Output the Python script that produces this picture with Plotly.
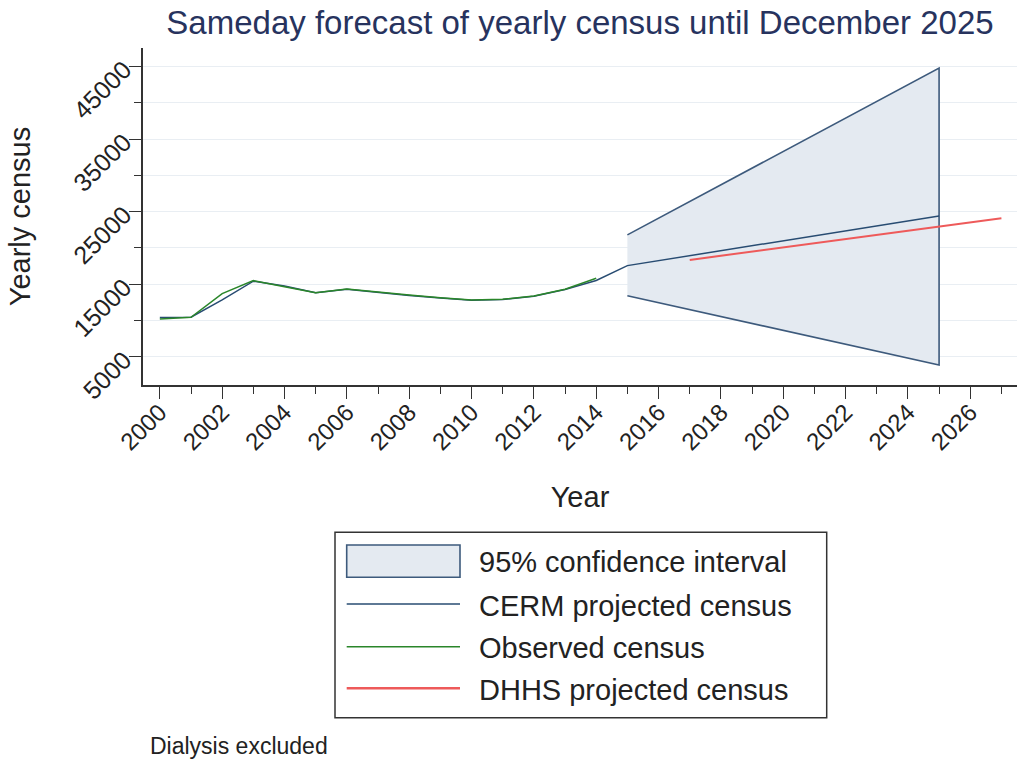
import plotly.graph_objects as go

# ---------------- data ----------------
obs_years = list(range(2000, 2015))
observed = [10200, 10430, 13700, 15480, 14650, 13830, 14340, 13880,
            13510, 13140, 12820, 12920, 13370, 14300, 15810]

cerm_years = list(range(2000, 2016)) + [2025]
cerm = [10400, 10450, 12820, 15400, 14750, 13800, 14300, 13850,
        13450, 13100, 12780, 12880, 13330, 14250, 15500, 17550, 24400]

ci_years = [2015, 2025]
ci_upper = [21790, 44780]
ci_lower = [13410, 3850]

dhhs_years = [2017, 2027]
dhhs = [18340, 24090]

x_ticks = list(range(2000, 2027, 2))
x_minor = list(range(2001, 2028, 2))
y_ticks = [5000, 15000, 25000, 35000, 45000]
y_minor = [10000, 20000, 30000, 40000]

legend_labels = ["95% confidence interval", "CERM projected census",
                 "Observed census", "DHHS projected census"]

# ---------------- styles ----------------
NAVY = "#284c72"
CI_LINE = "#3d5a7c"
CI_FILL = "#e4eaf1"
GREEN = "#2a862a"
RED = "#ee5a5a"
FONT = "Liberation Sans, Arial, Helvetica, sans-serif"

W, H = 1017, 763
L, T, R = 143, 48, 0
B = H - 385
PW, PH = W - L - R, H - T - B


def px(x):
    """picture x pixel -> paper x"""
    return (x - L) / PW


def py(y):
    """picture y pixel -> paper y"""
    return (H - B - y) / PH


fig = go.Figure()

# confidence band
fig.add_trace(go.Scatter(
    x=ci_years + ci_years[::-1],
    y=ci_upper + ci_lower[::-1],
    fill="toself", fillcolor=CI_FILL,
    line=dict(color=CI_LINE, width=1.6),
    mode="lines", name=legend_labels[0], hoverinfo="skip"))

fig.add_trace(go.Scatter(x=cerm_years, y=cerm, mode="lines",
                         line=dict(color=NAVY, width=1.5), name=legend_labels[1]))
fig.add_trace(go.Scatter(x=dhhs_years, y=dhhs, mode="lines",
                         line=dict(color=RED, width=2), name=legend_labels[3]))
fig.add_trace(go.Scatter(x=obs_years, y=observed, mode="lines",
                         line=dict(color=GREEN, width=1.5), name=legend_labels[2]))

fig.update_layout(
    width=W, height=H,
    margin=dict(l=L, r=R, t=T, b=B, pad=0),
    paper_bgcolor="white", plot_bgcolor="white",
    font=dict(family=FONT, color="#222222"),
    showlegend=False,
    title=dict(text="Sameday forecast of yearly census until December 2025",
               x=0.5, xref="paper", xanchor="center",
               y=1 - 22 / H, yref="container", yanchor="middle",
               font=dict(size=33, color="#27335e", family=FONT)),
)

fig.update_xaxes(
    range=[1999.46, 2027.5],
    tickmode="array", tickvals=x_ticks, ticktext=[str(v) for v in x_ticks],
    tickangle=-45, tickfont=dict(size=24, color="#222"),
    ticks="outside", ticklen=12, tickwidth=1.3, tickcolor="#333",
    ticklabelstandoff=-10,
    minor=dict(tickvals=x_minor, ticks="outside", ticklen=7, tickwidth=1.3, tickcolor="#333"),
    showline=True, linecolor="#333", linewidth=1.5,
    showgrid=False, zeroline=False,
    title=dict(text="Year", font=dict(size=29, color="#222"), standoff=32),
)

fig.update_yaxes(
    range=[1100, 47540],
    tickmode="array", tickvals=y_ticks, ticktext=[str(v) for v in y_ticks],
    tickangle=-45, tickfont=dict(size=25, color="#222"),
    ticks="outside", ticklen=12, tickwidth=1.3, tickcolor="#333",
    minor=dict(tickvals=y_minor, ticks="outside", ticklen=7, tickwidth=1.3,
               tickcolor="#333", showgrid=True, gridcolor="#e9eef3", gridwidth=1),
    showgrid=True, gridcolor="#e9eef3", gridwidth=1,
    showline=True, linecolor="#333", linewidth=1.5, zeroline=False,
    title=dict(text="Yearly census", font=dict(size=29, color="#222"), standoff=29),
)

# ---------------- manual legend ----------------
shapes = [
    dict(type="rect", xref="paper", yref="paper",
         x0=px(335), x1=px(826.7), y0=py(717.7), y1=py(532.3),
         line=dict(color="#333", width=1.5), fillcolor="white", layer="above"),
    dict(type="rect", xref="paper", yref="paper",
         x0=px(346.7), x1=px(460), y0=py(577.3), y1=py(545),
         line=dict(color=CI_LINE, width=1.6), fillcolor=CI_FILL, layer="above"),
]
line_rows = [(604, NAVY, 1.5), (646.7, GREEN, 1.5), (688.3, RED, 2.5)]
for yy, col, wd in line_rows:
    shapes.append(dict(type="line", xref="paper", yref="paper",
                       x0=px(346.7), x1=px(460), y0=py(yy), y1=py(yy),
                       line=dict(color=col, width=wd), layer="above"))

annotations = []
text_rows = [561.7, 606, 648, 690]
for lab, yy in zip(legend_labels, text_rows):
    annotations.append(dict(text=lab, xref="paper", yref="paper",
                            x=px(476.7), y=py(yy), xanchor="left", yanchor="middle",
                            showarrow=False, font=dict(size=29, color="#222", family=FONT)))

annotations.append(dict(text="Dialysis excluded", xref="paper", yref="paper",
                        x=px(148), y=py(746), xanchor="left", yanchor="middle",
                        showarrow=False, font=dict(size=23, color="#222", family=FONT)))

fig.update_layout(shapes=shapes, annotations=annotations)

# remove the default page margin so the figure fills the window exactly
fig.write_html("out.html",
               config={"displayModeBar": False},
               post_script="document.body.style.margin='0';document.body.style.overflow='hidden';")
